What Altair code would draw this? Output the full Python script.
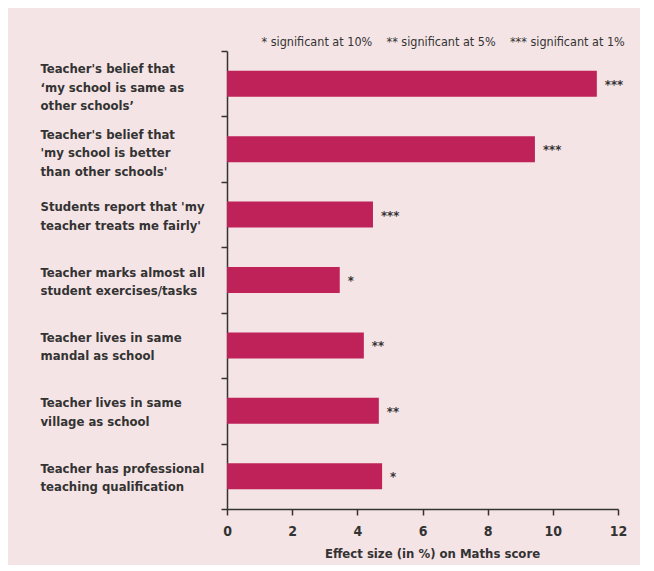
import altair as alt
import pandas as pd

categories = [
    "Teacher's belief that|\u2018my school is same as|other schools\u2019",
    "Teacher's belief that|'my school is better|than other schools'",
    "Students report that 'my|teacher treats me fairly'",
    "Teacher marks almost all|student exercises/tasks",
    "Teacher lives in same|mandal as school",
    "Teacher lives in same|village as school",
    "Teacher has professional|teaching qualification",
]
effects = [11.35, 9.45, 4.48, 3.46, 4.2, 4.66, 4.76]
stars = ["***", "***", "***", "*", "**", "**", "*"]

df = pd.DataFrame({"cat": categories, "effect": effects, "stars": stars})

FONT = "DejaVu Sans Condensed, Liberation Sans, sans-serif"
TXT = "#333333"
BAR = "#BE2258"
BG = "#F5E4E5"

y = alt.Y(
    "cat:N",
    sort=categories,
    scale=alt.Scale(paddingInner=0, paddingOuter=0),
    axis=alt.Axis(
        title=None,
        labelExpr="split(datum.label, '|')",
        labelAlign="left",
        labelBaseline="middle",
        labelPadding=181,
        labelOffset={
            "condition": {"test": "length(split(datum.value, '|')) > 2", "value": -15},
            "value": -8,
        },
        labelFont=FONT,
        labelFontSize=13,
        labelFontWeight="bold",
        labelColor=TXT,
        labelLineHeight=18.5,
        labelLimit=0,
        tickBand="extent",
        tickSize=6,
        tickColor=TXT,
        tickWidth=1.5,
        domainColor=TXT,
        domainWidth=1.5,
    ),
)

x = alt.X(
    "effect:Q",
    scale=alt.Scale(domain=[0, 12], nice=False),
    axis=alt.Axis(
        title="Effect size (in %) on Maths score",
        values=[0, 2, 4, 6, 8, 10, 12],
        grid=False,
        labelFlush=False,
        labelFont=FONT,
        labelFontSize=14,
        labelFontWeight="bold",
        labelColor=TXT,
        labelPadding=9,
        tickSize=6,
        tickColor=TXT,
        tickWidth=1.5,
        domainColor=TXT,
        domainWidth=1.5,
        titleFont=FONT,
        titleFontSize=13,
        titleFontWeight="bold",
        titleColor=TXT,
        titlePadding=9,
        titleX=205,
    ),
)

bars = alt.Chart(df).mark_bar(color=BAR, size=26).encode(x=x, y=y)
labels = alt.Chart(df).mark_text(
    align="left", baseline="middle", dx=8, dy=1, font=FONT, fontSize=13,
    fontWeight="bold", color=TXT
).encode(x="effect:Q", y=alt.Y("cat:N", sort=categories), text="stars:N")

SP = "\u00a0\u00a0\u00a0\u00a0"
chart = (
    alt.layer(bars, labels)
    .properties(
        width=391,
        height=458,
        autosize=alt.AutoSizeParams(type="none"),
        padding={"left": 219, "top": 43, "right": 22, "bottom": 56},
        background=BG,
        title=alt.TitleParams(
            "* significant at 10%" + SP + "** significant at 5%" + SP + "*** significant at 1%",
            anchor="end",
            font=FONT,
            fontSize=12.5,
            fontWeight="normal",
            color=TXT,
            offset=4,
            dx=-2,
            dy=7,
        ),
    )
    .configure_view(stroke=None)
)

chart.save("out.html", embed_options={"renderer": "svg", "actions": False})
